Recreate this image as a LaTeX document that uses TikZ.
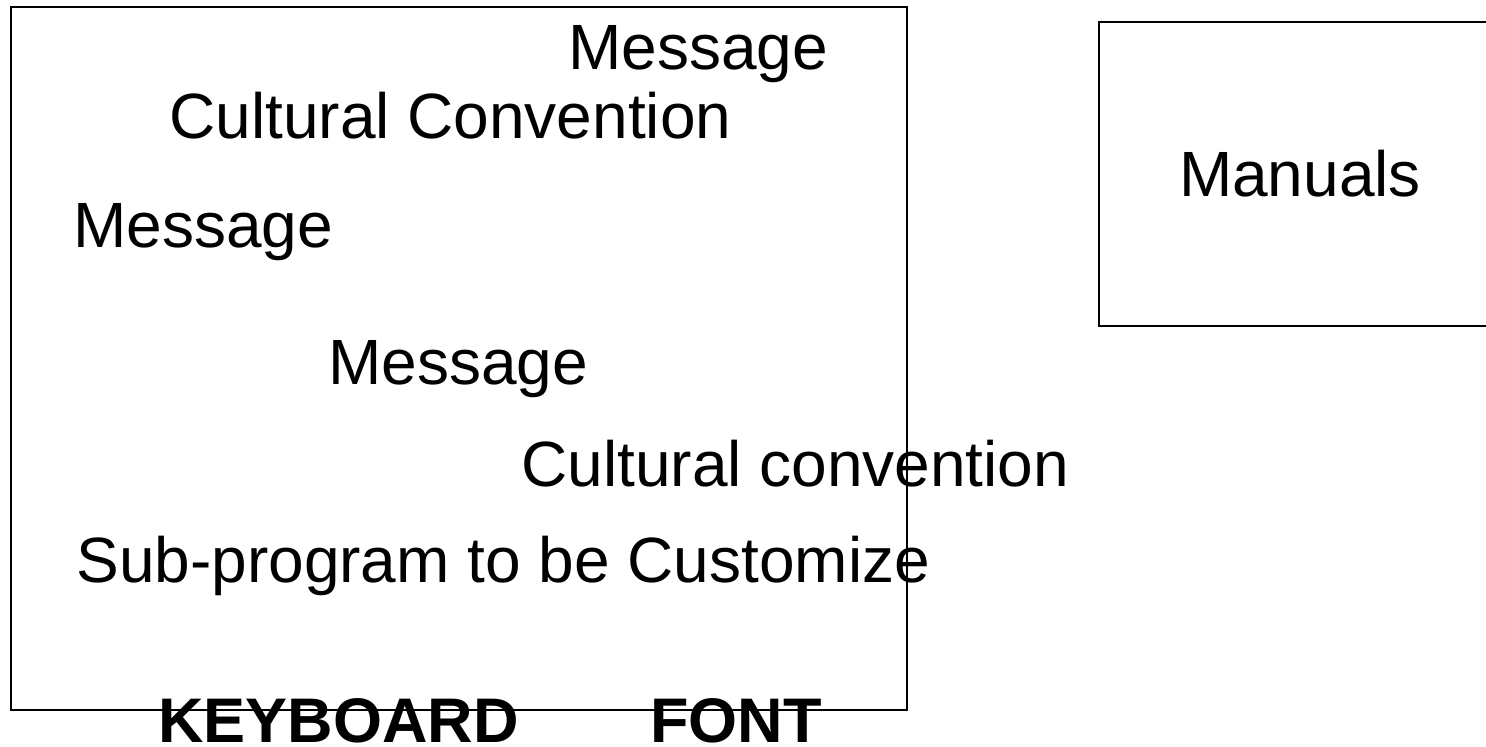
\documentclass[tikz,border=0pt]{standalone}
\usepackage{fontspec}
\setmainfont{Liberation Sans}
\tikzset{
    marco/.style={rectangle, draw=black, line width=1pt, inner sep=0pt},
    etiqueta/.style={inner sep=0pt, anchor=base west, font=\fontsize{32}{38}\selectfont},
    rotulo/.style={etiqueta, font=\fontsize{31.5}{38}\selectfont\bfseries},
    manual/.style={marco, minimum width=201pt, minimum height=152pt,
        font=\fontsize{32}{38}\selectfont}}

\begin{document}
\begin{tikzpicture}[x=0.5pt, y=-0.5pt]
    \clip (0,0) rectangle (1486,746);
    % Marco del programa
    \node (programa) [marco, minimum width=448pt, minimum height=351.5pt] at (459,358.5) {};
    % Caja de manuales
    \node (manuales) [manual] at (1300,174) {Manuals};
    % Textos
    \node (msg1) [etiqueta] at (568,69) {Message};
    \node (conv1) [etiqueta] at (169,138) {Cultural Convention};
    \node (msg2) [etiqueta] at (73,247) {Message};
    \node (msg3) [etiqueta] at (328,384) {Message};
    \node (conv2) [etiqueta] at (521,486) {Cultural convention};
    \node (sub) [etiqueta] at (76,582) {Sub-program to be Customize};
    \node (teclado) [rotulo] at (158,742) {KEYBOARD};
    \node (fuente) [rotulo] at (650,742) {FONT};
\end{tikzpicture}
\end{document}
